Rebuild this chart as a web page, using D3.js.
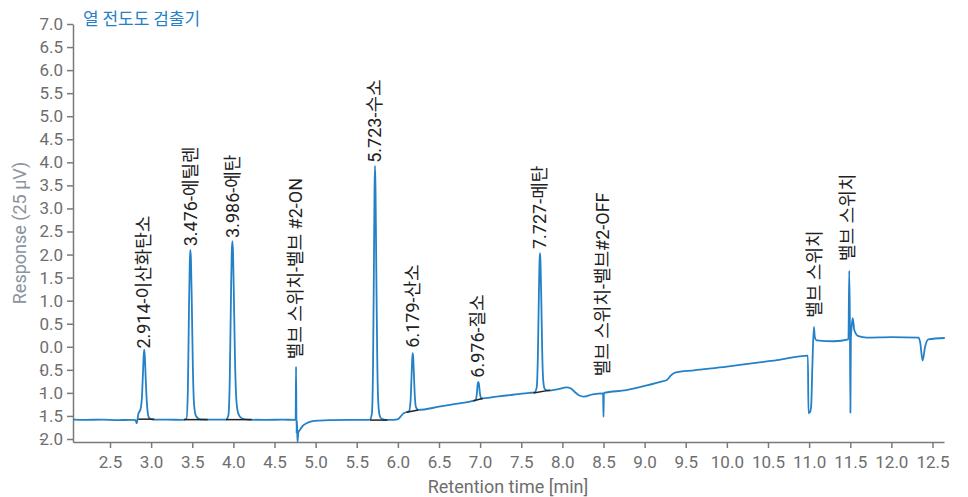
<!DOCTYPE html>
<html>
<head>
<meta charset="utf-8">
<script src="https://cdn.jsdelivr.net/npm/d3@7"></script>
<style>
  body { margin: 0; background: #fff; }
  svg { display: block; }
  .axis text { font-family: Roboto, sans-serif; font-size: 17px; fill: #6e6e6e; }
  .axis path, .axis line { stroke: #7a7a7a; stroke-width: 1.5; }
</style>
</head>
<body>
<svg id="chart" width="968" height="497"></svg>
<script>
const chartTitle = '열 전도도 검출기';
const xTitle = 'Retention time [min]';
const yTitle = 'Response (25 µV)';

const xTicks = [2.5, 3.0, 3.5, 4.0, 4.5, 5.0, 5.5, 6.0, 6.5, 7.0, 7.5, 8.0, 8.5, 9.0, 9.5, 10.0, 10.5, 11.0, 11.5, 12.0, 12.5];
const yTicks = [-2.0, -1.5, -1.0, -0.5, 0.0, 0.5, 1.0, 1.5, 2.0, 2.5, 3.0, 3.5, 4.0, 4.5, 5.0, 5.5, 6.0, 6.5, 7.0];

// [time (min), response]
const trace = [
  [2.05, -1.58], [2.2, -1.585], [2.4, -1.58], [2.6, -1.59], [2.75, -1.585], [2.81, -1.59],
  [2.825, -1.66], [2.845, -1.45], [2.87, -1.36],
  [2.888, -1.1], [2.9, -0.6], [2.909, -0.2], [2.916, -0.06], [2.923, -0.2], [2.932, -0.6], [2.943, -1.05], [2.957, -1.4], [2.975, -1.54], [3.02, -1.58],
  [3.2, -1.58], [3.38, -1.585], [3.43, -1.56], [3.447, -0.9], [3.46, 0.8], [3.47, 1.85], [3.477, 2.10], [3.484, 1.9], [3.495, 0.9], [3.508, -0.5], [3.522, -1.25], [3.545, -1.5], [3.6, -1.575],
  [3.8, -1.58], [3.91, -1.58], [3.94, -1.48], [3.956, -0.7], [3.97, 1.0], [3.98, 2.05], [3.988, 2.29], [3.996, 2.05], [4.007, 1.0], [4.02, -0.3], [4.036, -1.15], [4.06, -1.45], [4.1, -1.55], [4.18, -1.58],
  [4.4, -1.585], [4.6, -1.58], [4.75, -1.585],
  [4.757, -1.58], [4.762, -0.43], [4.768, -1.88], [4.773, -1.6], [4.779, -2.06], [4.79, -1.86], [4.81, -1.80], [4.84, -1.72], [4.89, -1.66], [4.95, -1.62], [5.05, -1.60], [5.2, -1.59], [5.4, -1.585], [5.62, -1.585],
  [5.66, -1.58], [5.684, -1.45], [5.698, -0.4], [5.708, 1.6], [5.716, 3.4], [5.722, 3.92], [5.728, 3.45], [5.737, 1.8], [5.748, -0.1], [5.76, -1.15], [5.777, -1.48], [5.8, -1.56], [5.86, -1.585],
  [5.95, -1.585], [6.0, -1.57], [6.03, -1.52], [6.065, -1.45], [6.1, -1.42],
  [6.135, -1.40], [6.155, -1.15], [6.167, -0.6], [6.175, -0.25], [6.181, -0.14], [6.187, -0.25], [6.196, -0.65], [6.207, -1.1], [6.222, -1.32], [6.25, -1.37],
  [6.5, -1.30], [6.7, -1.24], [6.9, -1.18],
  [6.945, -1.16], [6.96, -1.02], [6.971, -0.8], [6.978, -0.76], [6.985, -0.8], [6.997, -1.0], [7.012, -1.12],
  [7.2, -1.08], [7.4, -1.04], [7.6, -1.0], [7.66, -0.99],
  [7.688, -0.88], [7.702, -0.2], [7.714, 1.1], [7.722, 1.85], [7.728, 2.03], [7.734, 1.85], [7.744, 1.0], [7.756, -0.2], [7.768, -0.75], [7.787, -0.92], [7.82, -0.95],
  [7.95, -0.92], [8.05, -0.88], [8.1, -0.9], [8.15, -0.98], [8.2, -1.05], [8.26, -1.08], [8.37, -1.03], [8.495, -1.01],
  [8.50, -1.52], [8.505, -1.0],
  [8.78, -0.94], [9.0, -0.85], [9.19, -0.76], [9.27, -0.72], [9.32, -0.62], [9.37, -0.56], [9.6, -0.51], [10.0, -0.43], [10.3, -0.36], [10.61, -0.29], [10.985, -0.19],
  [10.992, -1.44], [11.01, -1.42], [11.025, -1.28], [11.04, -0.4], [11.058, 0.43], [11.07, 0.2], [11.09, 0.14], [11.3, 0.12], [11.478, 0.16],
  [11.488, 1.65], [11.496, 0.5], [11.502, -1.43], [11.508, 0.2], [11.518, 0.45], [11.53, 0.62], [11.55, 0.36], [11.6, 0.23], [11.7, 0.20], [12.0, 0.21], [12.33, 0.20],
  [12.35, 0.10], [12.38, -0.30], [12.41, 0.0], [12.45, 0.16], [12.65, 0.19]
];

// integration baselines: [t0, v0, t1, v1]
const baselines = [
  [2.844, -1.57, 3.039, -1.57],
  [3.40, -1.58, 3.688, -1.58],
  [3.91, -1.58, 4.223, -1.58],
  [5.662, -1.59, 5.872, -1.59],
  [6.108, -1.42, 6.249, -1.37],
  [6.918, -1.17, 7.032, -1.12],
  [7.648, -1.00, 7.851, -0.94]
];

const labelTexts = ['2.914-이산화탄소', '3.476-에틸렌', '3.986-에탄', '밸브 스위치-밸브 #2-ON', '5.723-수소', '6.179-산소', '6.976-질소', '7.727-메탄', '밸브 스위치-밸브#2-OFF', '밸브 스위치', '밸브 스위치'];
const labelTimes = [2.914, 3.476, 3.986, 4.76, 5.723, 6.179, 6.976, 7.727, 8.49, 11.07, 11.475];
const labelValues = [-0.04, 2.18, 2.36, -0.27, 3.99, -0.02, -0.67, 2.12, -0.64, 0.63, 1.86];

const svg = d3.select('#chart');
const x = d3.scaleLinear().domain([2.05, 12.64]).range([73, 944]);
const y = d3.scaleLinear().domain([-2.065, 7]).range([442, 24]);

svg.append('g')
  .attr('class', 'axis')
  .attr('transform', 'translate(0,442)')
  .call(d3.axisBottom(x).tickValues(xTicks).tickFormat(d3.format('.1f')).tickSize(6).tickSizeOuter(0).tickPadding(8));

const yAxis = svg.append('g')
  .attr('class', 'axis')
  .attr('transform', 'translate(73,0)')
  .call(d3.axisLeft(y).tickValues(yTicks).tickFormat(d => d3.format('.1f')(Math.abs(d))).tickSize(6).tickSizeOuter(0).tickPadding(4));

// the negative labels have their minus drawn over the first digit
yAxis.selectAll('.tick text').each(function (d) {
  if (d >= 0) return;
  const text = d3.select(this);
  const s = text.text();
  text.text(null);
  text.append('tspan').text('-');
  text.append('tspan').attr('dx', '-0.276em').text(s);
});

svg.append('path')
  .datum(trace)
  .attr('fill', 'none')
  .attr('stroke', '#2581c7')
  .attr('stroke-width', 1.8)
  .attr('stroke-linejoin', 'round')
  .attr('d', d3.line().x(d => x(d[0])).y(d => y(d[1])).curve(d3.curveMonotoneX));

svg.append('g')
  .selectAll('line')
  .data(baselines)
  .join('line')
  .attr('x1', d => x(d[0]))
  .attr('y1', d => y(d[1]))
  .attr('x2', d => x(d[2]))
  .attr('y2', d => y(d[3]))
  .attr('stroke', '#222')
  .attr('stroke-width', 1.5);

svg.append('g')
  .selectAll('text')
  .data(labelTexts)
  .join('text')
  .attr('transform', (d, i) => `translate(${x(labelTimes[i])},${y(labelValues[i])}) rotate(-90)`)
  .attr('dy', '0.35em')
  .attr('font-family', "Roboto, 'Noto Sans CJK KR', sans-serif")
  .attr('font-size', 18)
  .attr('fill', '#222')
  .text(d => d);

svg.append('text')
  .attr('x', 83)
  .attr('y', 25)
  .attr('font-family', "'Noto Sans CJK KR', sans-serif")
  .attr('font-size', 17)
  .attr('fill', '#2581c7')
  .text(chartTitle);

svg.append('text')
  .attr('x', 508)
  .attr('y', 493)
  .attr('text-anchor', 'middle')
  .attr('font-family', 'Roboto, sans-serif')
  .attr('font-size', 18)
  .attr('fill', '#6e6e6e')
  .text(xTitle);

svg.append('text')
  .attr('transform', 'translate(20,233) rotate(-90)')
  .attr('text-anchor', 'middle')
  .attr('dy', '0.35em')
  .attr('font-family', 'Roboto, sans-serif')
  .attr('font-size', 18)
  .attr('fill', '#8a949e')
  .text(yTitle);
</script>
</body>
</html>
